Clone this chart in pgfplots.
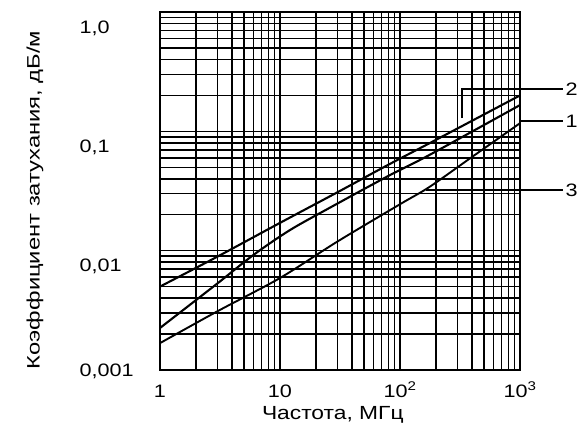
\documentclass[border=0pt]{standalone}
\usepackage{graphicx}
\usepackage{pgfplots}
\pgfplotsset{compat=1.18}
\usepackage{fontspec}
\setmainfont[FakeStretch=1.2]{Liberation Sans}
\newcommand{\lf}{\fontsize{18}{21}\selectfont}
\begin{document}
\begin{tikzpicture}
\begin{axis}[
  scale only axis, width=360pt, height=358pt,
  xmode=log, ymode=log,
  xmin=1, xmax=1000, ymin=0.001, ymax=1,
  xtick={1,10,100,1000},
  xticklabels={1,10,10\textsuperscript{2},10\textsuperscript{3}},
  ytick={0.001,0.01,0.1,1},
  yticklabels={{\raisebox{14.5pt}{0,001}},{0,01},{0,1},{1,0}},
  grid=both,
  major grid style={black, line width=1.5pt},
  minor grid style={black, line width=1.5pt},
  major tick length=0pt, minor tick length=0pt,
  axis line style={black, line width=2.4pt},
  tick label style={font=\lf},
  xticklabel style={anchor=base, yshift=-27pt},
  yticklabel style={anchor=base west, xshift=-84pt, yshift=-21pt},
  xlabel={Частота, МГц},
  ylabel={\scalebox{1.1}[1]{Коэффициент затухания, дБ/м}},
  xlabel style={font=\fontsize{19}{22}\selectfont, at={(axis description cs:0.48,0)}, anchor=center, yshift=-45pt},
  ylabel style={font=\lf, at={(axis description cs:0,0.475)}, anchor=center, yshift=125pt},
]
% curve 2
\addplot[black, line width=2.1pt, smooth] coordinates {
 (1,0.0050) (3,0.0089) (10,0.0171) (30,0.0308) (80,0.0525) (200,0.085) (1000,0.20)};
% curve 1
\addplot[black, line width=2.1pt, smooth] coordinates {
 (1,0.00225) (3,0.0053) (6,0.0092) (12,0.0148) (25,0.0224) (80,0.0423) (176,0.0634) (1000,0.166)};
% curve 3
\addplot[black, line width=1.9pt, smooth] coordinates {
 (1,0.00168) (3,0.0031) (10,0.0059) (30,0.0119) (100,0.0245) (176,0.0342) (400,0.0612) (1000,0.117)};
\coordinate (c2) at (axis cs:330,0.129);
\coordinate (c2t) at (axis cs:330,0.226);
\coordinate (r2) at (axis cs:1000,0.226);
\coordinate (r1) at (axis cs:1000,0.122);
\coordinate (c3) at (axis cs:166,0.0323);
\coordinate (r3) at (axis cs:1000,0.0323);
\end{axis}
\draw[line width=1.5pt] (c2) -- (c2t) -- ([xshift=43pt]r2)
  node[anchor=west, inner sep=2pt, font=\lf] {2};
\draw[line width=1.5pt] (r1) -- ([xshift=43pt]r1)
  node[anchor=west, inner sep=2pt, font=\lf] {1};
\draw[line width=1.5pt] (c3) -- (r3) -- ([xshift=43pt]r3)
  node[anchor=west, inner sep=2pt, font=\lf] {3};
\path (current axis.south west) ++(-160pt,-59pt) rectangle ++(582pt,429pt);
\end{tikzpicture}
\end{document}
